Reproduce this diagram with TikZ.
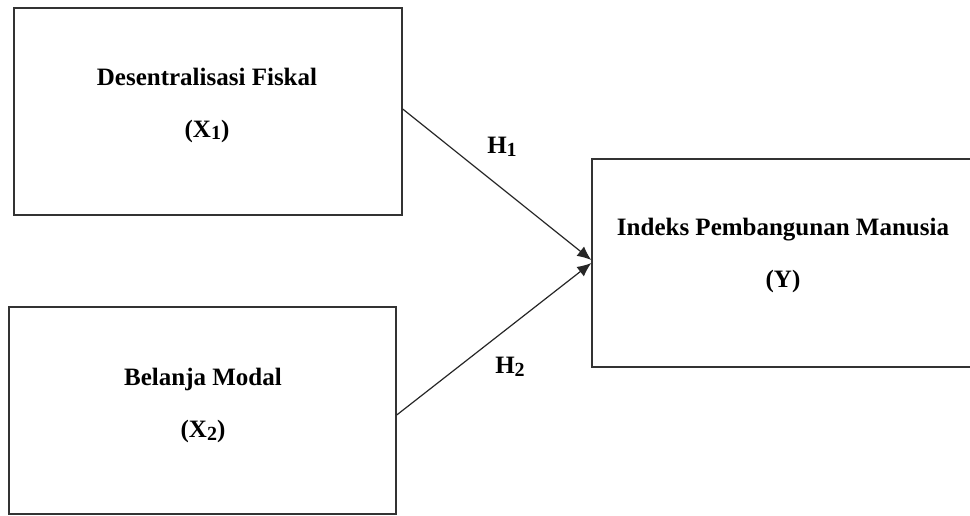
\documentclass[tikz,border=0pt]{standalone}
\usepackage{fontspec}
\setmainfont{Liberation Serif}
\usetikzlibrary{arrows.meta}
\newcommand{\mysub}[1]{\raisebox{-0.25ex}{\fontsize{10}{10}\selectfont #1}}
\begin{document}
\begin{tikzpicture}[x=0.5pt,y=-0.5pt,
  varbox/.style={draw=black!80,line width=0.7pt,rectangle,inner sep=0pt},
  vartext/.style={font=\bfseries\fontsize{12.5}{26}\selectfont,align=center,inner sep=0pt},
  hlabel/.style={font=\bfseries\fontsize{12.5}{15}\selectfont,inner sep=0pt},
  link/.style={draw=black!85,line width=0.6pt,-{Latex[length=7pt,width=6pt]}}]
\useasboundingbox (0,0) rectangle (970,515);
\begin{scope}
\clip (0,0) rectangle (970,515);
\node[varbox,minimum width=194pt,minimum height=103.5pt] (b1) at (208,111.5) {};
\node[varbox,minimum width=193.5pt,minimum height=103.5pt] (b2) at (202.5,410.5) {};
\node[varbox,minimum width=191pt,minimum height=104pt] (b3) at (783,263) {};
\end{scope}
\node[vartext] (t1) at (207,105) {Desentralisasi Fiskal\\(X\mysub{1})};
\node[vartext] (t2) at (203,405.5) {Belanja Modal\\(X\mysub{2})};
\node[vartext] (t3) at (783,255) {Indeks Pembangunan Manusia\\(Y)};
\draw[link] ([yshift=1.25pt]b1.east) -- ([yshift=1.5pt]b3.west);
\draw[link] ([yshift=-2.25pt]b2.east) -- ([yshift=0pt]b3.west);
\node[hlabel] (h1) at (502,147) {H\mysub{1}};
\node[hlabel] (h2) at (510,367) {H\mysub{2}};
\end{tikzpicture}
\end{document}
